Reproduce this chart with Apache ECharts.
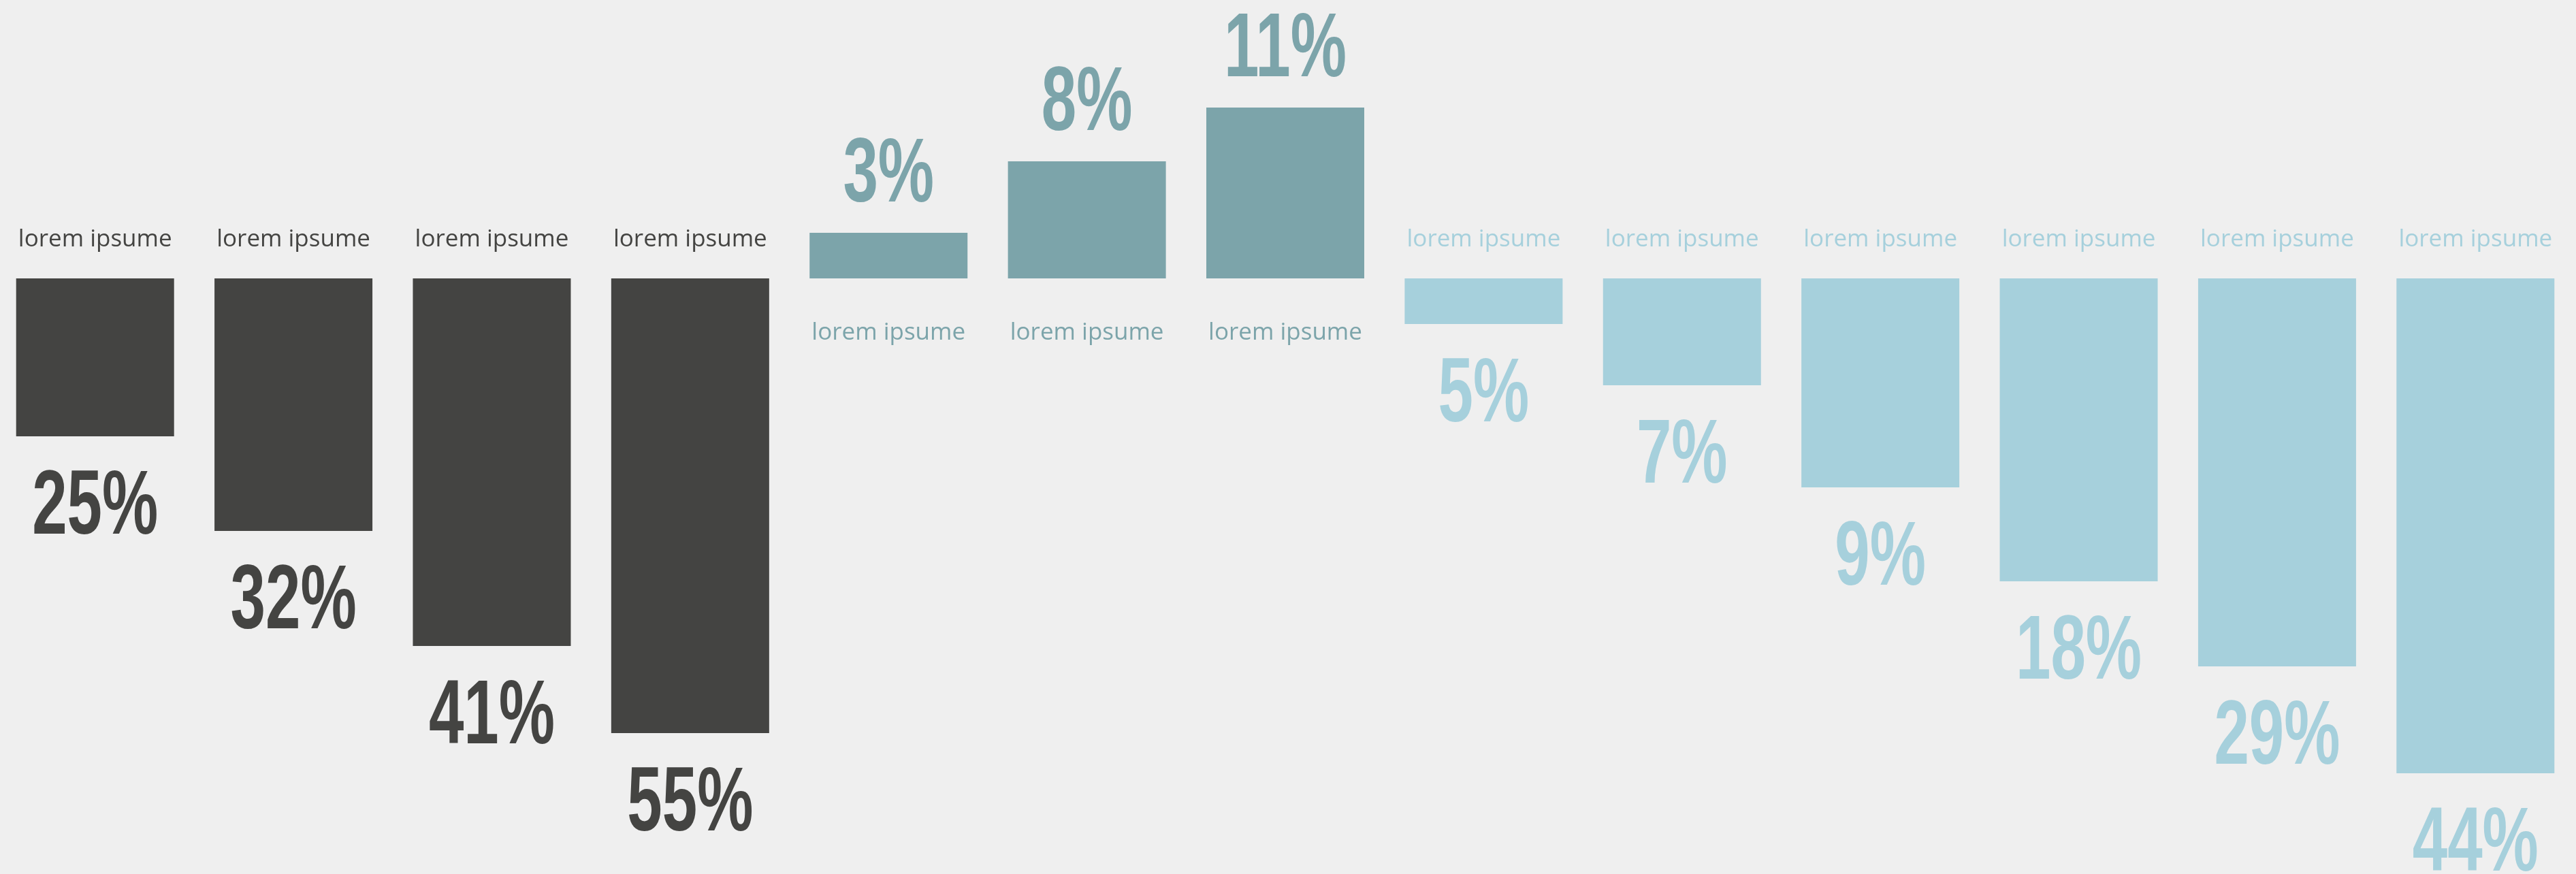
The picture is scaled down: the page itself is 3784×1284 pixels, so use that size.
<!DOCTYPE html>
<html>
<head>
<meta charset="utf-8">
<script src="https://cdn.jsdelivr.net/npm/echarts@6/dist/echarts.min.js"></script>
<style>
  html, body { margin: 0; padding: 0; background: #efefef; }
  #chart { width: 3784px; height: 1284px; }
</style>
</head>
<body>
<div id="chart"></div>
<script>
// categories, one slot per bar
const categories = [
  "lorem ipsume", "lorem ipsume", "lorem ipsume", "lorem ipsume",
  "lorem ipsume", "lorem ipsume", "lorem ipsume",
  "lorem ipsume", "lorem ipsume", "lorem ipsume", "lorem ipsume", "lorem ipsume", "lorem ipsume"
];

// bar lengths as drawn (negative = hanging down from the baseline)
const darkValues = [-23.2, -37.1, -54.0, -66.8];
const tealValues = [6.7, 17.2, 25.1];
const lightValues = [-6.7, -15.7, -30.7, -44.5, -57.0, -72.7];

// percentage labels printed next to the bars
const darkLabels = ["25%", "32%", "41%", "55%"];
const tealLabels = ["3%", "8%", "11%"];
const lightLabels = ["5%", "7%", "9%", "18%", "29%", "44%"];

const DARK = "#444442";
const TEAL = "#7ca4aa";
const LIGHT = "#a6d0dc";

const groups = [
  { values: darkValues, labels: darkLabels, start: 0, color: DARK },
  { values: tealValues, labels: tealLabels, start: 4, color: TEAL },
  { values: lightValues, labels: lightLabels, start: 7, color: LIGHT }
];

let padData = (g) =>
  categories.map((_, i) =>
    i >= g.start && i < g.start + g.values.length ? g.values[i - g.start] : "-"
  );

let labelRenderer = (g) => (params, api) => {
  const cat = api.value(0);
  const v = api.value(1);
  const base = api.coord([cat, 0]);
  const end = api.coord([cat, v]);
  const down = v < 0;
  return {
    type: "group",
    children: [
      {
        type: "text",
        x: base[0],
        y: down ? base[1] - 57 : base[1] + 80,
        style: {
          text: categories[cat],
          font: '35px "Open Sans", sans-serif',
          fill: g.color,
          align: "center",
          verticalAlign: "middle"
        }
      },
      {
        type: "text",
        x: end[0],
        y: down ? end[1] + 106 : end[1] - 83,
        scaleX: 0.69,
        style: {
          text: g.labels[params.dataIndex],
          font: 'bold 134px "Liberation Sans", sans-serif',
          fill: g.color,
          align: "center",
          verticalAlign: "middle"
        }
      }
    ]
  };
};

let chart = echarts.init(document.getElementById("chart"));
chart.setOption({
  animation: false,
  backgroundColor: "#efefef",
  grid: {
    left: -6,
    right: 2,
    top: 0,
    bottom: 0,
    outerBoundsMode: "none",
    containLabel: false
  },
  xAxis: {
    type: "category",
    data: categories,
    show: false
  },
  yAxis: {
    type: "value",
    min: -87.5,
    max: 40.9,
    show: false
  },
  series: [
    ...groups.map((g) => ({
      type: "bar",
      data: padData(g),
      barWidth: 232,
      barGap: "-100%",
      itemStyle: { color: g.color },
      silent: true
    })),
    ...groups.map((g) => ({
      type: "custom",
      data: g.values.map((v, i) => [g.start + i, v]),
      renderItem: labelRenderer(g),
      silent: true
    }))
  ]
});
</script>
</body>
</html>
